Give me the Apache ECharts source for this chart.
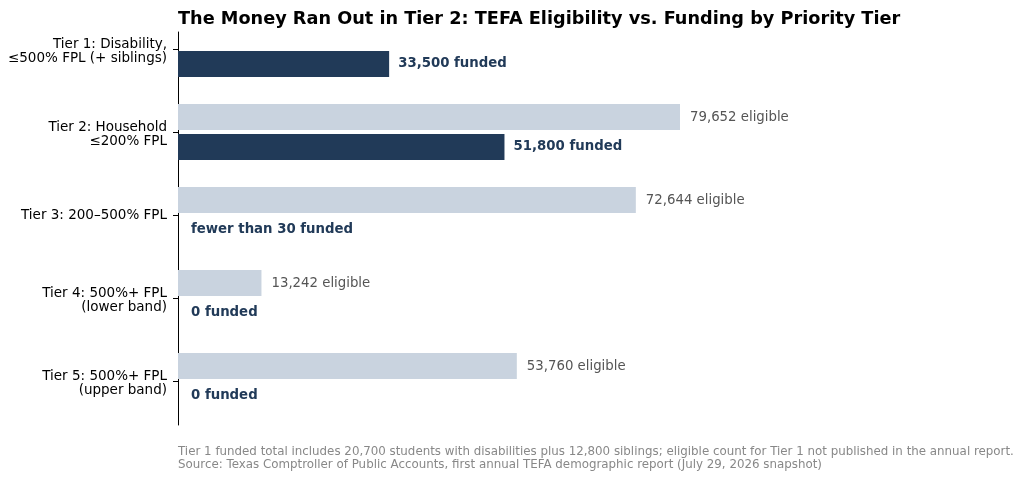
<!DOCTYPE html>
<html>
<head>
<meta charset="utf-8">
<script src="https://cdn.jsdelivr.net/npm/echarts@6/dist/echarts.min.js"></script>
<style>
  html, body { margin: 0; padding: 0; background: #fff; }
  #chart { width: 1024px; height: 478px; }
</style>
</head>
<body>
<div id="chart"></div>
<script>
// 数据
const tiers = [
    'Tier 1: Disability,\n≤500% FPL (+ siblings)',
    'Tier 2: Household\n≤200% FPL',
    'Tier 3: 200–500% FPL',
    'Tier 4: 500%+ FPL\n(lower band)',
    'Tier 5: 500%+ FPL\n(upper band)'
];
const eligible = [null, 79652, 72644, 13242, 53760];
const funded = [33500, 51800, 0, 0, 0];
const fundedLabels = ['33,500 funded', '51,800 funded', 'fewer than 30 funded', '0 funded', '0 funded'];
const footnotes = [
    'Tier 1 funded total includes 20,700 students with disabilities plus 12,800 siblings; eligible count for Tier 1 not published in the annual report.',
    'Source: Texas Comptroller of Public Accounts, first annual TEFA demographic report (July 29, 2026 snapshot)'
];

const NAVY = '#213a58';
const LIGHT = '#c9d3df';
const FONT = 'DejaVu Sans';

function fmt(v) {
    return v.toLocaleString('en-US');
}

// 两行标签稍微往下挪一点，跟原图对齐
function tierLabel(value) {
    const lines = value.split('\n');
    if (lines.length === 1) return '{m|' + value + '}';
    return '{s|}\n' + lines.map(l => '{m|' + l + '}').join('\n');
}

const chart = echarts.init(document.getElementById('chart'));

const option = {
    animation: false,
    textStyle: { fontFamily: FONT },
    title: [
        {
            text: 'The Money Ran Out in Tier 2: TEFA Eligibility vs. Funding by Priority Tier',
            left: 178,
            top: 10,
            padding: 0,
            textStyle: { fontFamily: FONT, fontSize: 17.7, fontWeight: 'bold', color: '#000' }
        },
        {
            text: footnotes.join('\n'),
            left: 178,
            top: 446,
            padding: 0,
            textStyle: { fontFamily: FONT, fontSize: 11.85, fontWeight: 'normal', color: '#888', lineHeight: 12.5 }
        }
    ],
    grid: [
        // 柱状图区域
        { left: 178, top: 7.5, width: 630.25, bottom: 55.5, containLabel: false },
        // 只用来画左边的轴线
        { left: 178, top: 32, width: 1, bottom: 53, containLabel: false }
    ],
    xAxis: [
        { type: 'value', min: 0, max: 100000, gridIndex: 0, show: false },
        { type: 'value', gridIndex: 1, show: false }
    ],
    yAxis: [
        {
            type: 'category',
            gridIndex: 0,
            inverse: true,
            data: tiers,
            axisLine: { show: false },
            axisTick: { show: true, length: 5, alignWithLabel: true, lineStyle: { color: '#000' } },
            axisLabel: {
                fontFamily: FONT, fontSize: 13.5, color: '#000', margin: 11,
                align: 'right',
                formatter: tierLabel,
                rich: {
                    s: { lineHeight: 4, fontSize: 1 },
                    m: { fontFamily: FONT, fontSize: 13.5, color: '#000', lineHeight: 14, align: 'right' }
                }
            }
        },
        {
            type: 'value',
            gridIndex: 1,
            axisLine: { show: true, lineStyle: { color: '#000', width: 1 } },
            axisTick: { show: false },
            axisLabel: { show: false },
            splitLine: { show: false }
        }
    ],
    series: [
        {
            name: 'Eligible',
            type: 'bar',
            xAxisIndex: 0,
            yAxisIndex: 0,
            data: eligible,
            barWidth: 26,
            barGap: '15%',
            itemStyle: { color: LIGHT },
            label: {
                show: true,
                position: 'right',
                distance: 10,
                fontFamily: FONT,
                fontSize: 13.3,
                color: '#555',
                formatter: p => fmt(p.value) + ' eligible'
            }
        },
        {
            name: 'Funded',
            type: 'bar',
            xAxisIndex: 0,
            yAxisIndex: 0,
            data: funded.map((v, i) => ({
                value: v,
                label: { distance: v === 0 ? 13 : 9 }
            })),
            barWidth: 26,
            barGap: '15%',
            itemStyle: { color: NAVY },
            label: {
                show: true,
                position: 'right',
                fontFamily: FONT,
                fontSize: 13.3,
                fontWeight: 'bold',
                color: NAVY,
                formatter: p => fundedLabels[p.dataIndex]
            }
        }
    ]
};

chart.setOption(option);
</script>
</body>
</html>
